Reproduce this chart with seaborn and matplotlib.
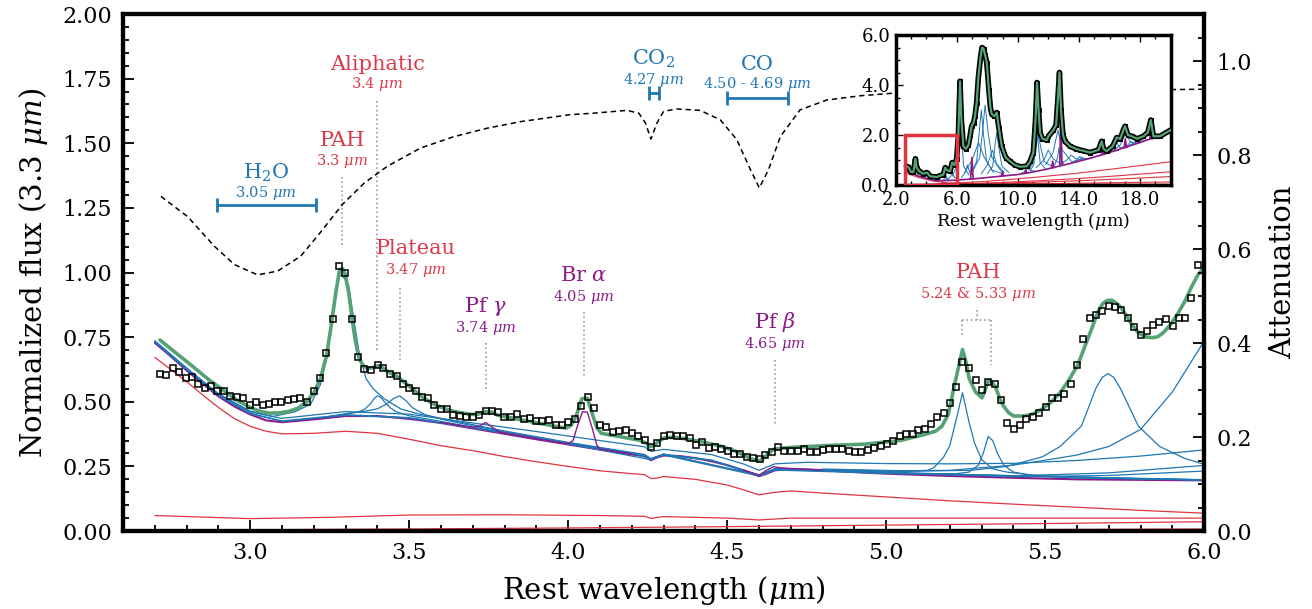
import matplotlib
matplotlib.use("Agg")
import matplotlib.pyplot as plt
from matplotlib.ticker import MultipleLocator, FixedLocator, FormatStrFormatter
from matplotlib.patches import Rectangle
import numpy as np
import pandas as pd
import seaborn as sns

# ------------------------------------------------------------------ data
obs_wave = [2.716, 2.735, 2.757, 2.777, 2.797, 2.817, 2.837, 2.857, 2.876, 2.896, 2.917, 2.937, 2.957, 2.977,
            2.999, 3.019, 3.039, 3.058, 3.078, 3.098, 3.118, 3.138, 3.158, 3.180, 3.199, 3.219, 3.238, 3.259,
            3.279, 3.299, 3.319, 3.339, 3.359, 3.379, 3.401, 3.419, 3.439, 3.460, 3.480, 3.500, 3.520, 3.540,
            3.560, 3.579, 3.599, 3.619, 3.639, 3.659, 3.679, 3.699, 3.719, 3.740, 3.759, 3.779, 3.799, 3.819,
            3.839, 3.860, 3.880, 3.900, 3.919, 3.939, 3.960, 3.980, 4.000, 4.020, 4.041, 4.061, 4.081, 4.100,
            4.120, 4.141, 4.161, 4.181, 4.201, 4.221, 4.240, 4.260, 4.280, 4.302, 4.321, 4.341, 4.362, 4.382,
            4.401, 4.422, 4.442, 4.461, 4.481, 4.501, 4.521, 4.541, 4.562, 4.582, 4.602, 4.620, 4.640, 4.660,
            4.680, 4.702, 4.722, 4.741, 4.761, 4.781, 4.801, 4.821, 4.842, 4.862, 4.882, 4.902, 4.922, 4.942,
            4.962, 4.983, 5.003, 5.023, 5.043, 5.063, 5.083, 5.101, 5.121, 5.142, 5.161, 5.181, 5.200, 5.220,
            5.240, 5.261, 5.281, 5.301, 5.321, 5.341, 5.362, 5.381, 5.401, 5.420, 5.441, 5.461, 5.481, 5.502,
            5.522, 5.541, 5.560, 5.581, 5.600, 5.620, 5.640, 5.659, 5.679, 5.700, 5.721, 5.740, 5.760, 5.780,
            5.800, 5.819, 5.839, 5.859, 5.881, 5.901, 5.920, 5.940, 5.960, 5.980]
obs_flux = [0.608, 0.605, 0.629, 0.616, 0.592, 0.596, 0.568, 0.554, 0.560, 0.541, 0.543, 0.521, 0.517, 0.516,
            0.486, 0.499, 0.488, 0.493, 0.498, 0.501, 0.507, 0.511, 0.516, 0.498, 0.541, 0.591, 0.688, 0.820,
            1.027, 1.000, 0.820, 0.675, 0.626, 0.622, 0.642, 0.630, 0.609, 0.600, 0.569, 0.552, 0.543, 0.517,
            0.515, 0.489, 0.473, 0.472, 0.450, 0.446, 0.442, 0.442, 0.450, 0.463, 0.463, 0.461, 0.442, 0.442,
            0.451, 0.435, 0.436, 0.426, 0.426, 0.428, 0.409, 0.410, 0.420, 0.435, 0.484, 0.519, 0.475, 0.409,
            0.402, 0.384, 0.387, 0.391, 0.378, 0.366, 0.351, 0.325, 0.340, 0.369, 0.370, 0.369, 0.366, 0.358,
            0.333, 0.344, 0.320, 0.327, 0.318, 0.308, 0.299, 0.298, 0.287, 0.283, 0.277, 0.295, 0.307, 0.327,
            0.310, 0.310, 0.311, 0.319, 0.304, 0.304, 0.314, 0.316, 0.319, 0.316, 0.308, 0.306, 0.307, 0.314,
            0.321, 0.329, 0.336, 0.349, 0.366, 0.375, 0.375, 0.389, 0.393, 0.415, 0.443, 0.455, 0.497, 0.559,
            0.652, 0.632, 0.584, 0.545, 0.577, 0.567, 0.507, 0.419, 0.393, 0.412, 0.432, 0.440, 0.457, 0.478,
            0.514, 0.516, 0.532, 0.567, 0.642, 0.742, 0.825, 0.834, 0.850, 0.870, 0.867, 0.855, 0.825, 0.788,
            0.759, 0.775, 0.797, 0.808, 0.819, 0.793, 0.826, 0.823, 0.900, 1.028]

model_wave = [2.716, 2.76, 2.812, 2.87, 2.923, 2.96, 3.0, 3.03, 3.061, 3.09, 3.121, 3.15, 3.177, 3.20, 3.221,
              3.24, 3.254, 3.27, 3.281, 3.29, 3.298, 3.31, 3.320, 3.33, 3.342, 3.355, 3.370, 3.385, 3.403,
              3.42, 3.44, 3.464, 3.48, 3.497, 3.52, 3.541, 3.565, 3.585, 3.61, 3.640, 3.67, 3.695, 3.715,
              3.74, 3.76, 3.778, 3.80, 3.861, 3.916, 3.96, 3.993, 4.01, 4.025, 4.043, 4.06, 4.077, 4.09,
              4.104, 4.159, 4.225, 4.245, 4.258, 4.270, 4.280, 4.304, 4.34, 4.371, 4.43, 4.483, 4.52, 4.550,
              4.575, 4.595, 4.605, 4.618, 4.632, 4.646, 4.67, 4.707, 4.819, 4.931, 5.043, 5.110, 5.155,
              5.175, 5.195, 5.217, 5.240, 5.252, 5.261, 5.281, 5.301, 5.311, 5.321, 5.332, 5.343, 5.355,
              5.368, 5.385, 5.401, 5.435, 5.46, 5.491, 5.52, 5.547, 5.575, 5.603, 5.625, 5.648, 5.665,
              5.681, 5.695, 5.709, 5.72, 5.737, 5.755, 5.771, 5.79, 5.804, 5.82, 5.838, 5.855, 5.872,
              5.895, 5.917, 5.94, 5.961, 5.98, 6.0]
model_flux = [0.739, 0.695, 0.644, 0.585, 0.538, 0.505, 0.478, 0.463, 0.456, 0.457, 0.463, 0.475, 0.499, 0.535,
              0.590, 0.680, 0.790, 0.930, 1.010, 1.015, 0.995, 0.920, 0.823, 0.740, 0.668, 0.640, 0.629, 0.632,
              0.640, 0.628, 0.612, 0.596, 0.580, 0.563, 0.540, 0.519, 0.500, 0.486, 0.474, 0.463, 0.456,
              0.451, 0.452, 0.462, 0.461, 0.448, 0.443, 0.428, 0.415, 0.405, 0.398, 0.410, 0.445, 0.512,
              0.514, 0.450, 0.400, 0.378, 0.366, 0.351, 0.340, 0.326, 0.332, 0.343, 0.362, 0.362, 0.356,
              0.343, 0.327, 0.312, 0.295, 0.280, 0.271, 0.274, 0.286, 0.303, 0.316, 0.320, 0.324, 0.331,
              0.336, 0.350, 0.370, 0.386, 0.405, 0.450, 0.577, 0.702, 0.650, 0.590, 0.538, 0.515, 0.545,
              0.584, 0.575, 0.560, 0.520, 0.485, 0.458, 0.445, 0.445, 0.452, 0.472, 0.500, 0.535, 0.585,
              0.643, 0.715, 0.788, 0.845, 0.880, 0.892, 0.893, 0.885, 0.867, 0.835, 0.801, 0.772, 0.759,
              0.750, 0.748, 0.752, 0.768, 0.800, 0.841, 0.890, 0.946, 0.990, 1.020]

atten_wave = [2.719, 2.803, 2.887, 2.950, 3.023, 3.086, 3.159, 3.219, 3.290, 3.358, 3.431, 3.536, 3.640,
              3.745, 3.850, 4.007, 4.080, 4.185, 4.222, 4.243, 4.260, 4.279, 4.300, 4.342, 4.415, 4.478,
              4.530, 4.573, 4.601, 4.630, 4.667, 4.729, 4.813, 4.918, 5.03, 5.3, 5.6, 6.0]
atten_val = [0.712, 0.669, 0.606, 0.567, 0.545, 0.553, 0.585, 0.634, 0.695, 0.740, 0.776, 0.815, 0.839,
             0.857, 0.871, 0.886, 0.889, 0.895, 0.889, 0.868, 0.834, 0.868, 0.893, 0.898, 0.895, 0.875,
             0.833, 0.769, 0.730, 0.769, 0.839, 0.896, 0.917, 0.926, 0.932, 0.935, 0.937, 0.940]

# continuum (sum of continuum components, attenuated) -- purple base of the bundle
cont_wave = [2.70, 2.75, 2.80, 2.85, 2.90, 2.95, 3.00, 3.05, 3.10, 3.20, 3.30, 3.40, 3.50, 3.60, 3.70, 3.80,
             3.90, 4.00, 4.10, 4.20, 4.24, 4.26, 4.28, 4.30, 4.35, 4.40, 4.45, 4.50, 4.55, 4.60, 4.62, 4.65,
             4.70, 4.80, 4.90, 5.00, 5.20, 5.40, 5.60, 5.80, 6.00]
cont_flux = [0.728, 0.676, 0.621, 0.570, 0.521, 0.482, 0.451, 0.428, 0.421, 0.432, 0.445, 0.445, 0.434, 0.418,
             0.397, 0.376, 0.355, 0.335, 0.315, 0.296, 0.290, 0.274, 0.285, 0.292, 0.290, 0.282, 0.270, 0.255,
             0.235, 0.212, 0.220, 0.235, 0.240, 0.235, 0.228, 0.222, 0.213, 0.206, 0.200, 0.198, 0.196]

# continuum components (red)
star_wave = [2.70, 2.75, 2.80, 2.85, 2.90, 2.95, 3.00, 3.05, 3.10, 3.20, 3.30, 3.40, 3.50, 3.60, 3.70, 3.80,
             3.90, 4.00, 4.10, 4.20, 4.24, 4.26, 4.28, 4.30, 4.40, 4.50, 4.55, 4.60, 4.65, 4.70, 4.80, 5.00,
             5.20, 5.40, 5.60, 5.80, 6.00]
star_flux = [0.672, 0.625, 0.578, 0.527, 0.478, 0.435, 0.405, 0.386, 0.376, 0.378, 0.386, 0.378, 0.355, 0.330,
             0.311, 0.288, 0.268, 0.250, 0.233, 0.222, 0.218, 0.203, 0.205, 0.211, 0.200, 0.178, 0.160, 0.140,
             0.150, 0.155, 0.147, 0.132, 0.117, 0.104, 0.092, 0.080, 0.069]
dust1_wave = [2.70, 3.00, 3.25, 3.50, 3.80, 4.10, 4.24, 4.26, 4.30, 4.50, 4.60, 4.70, 5.00, 5.50, 6.00]
dust1_flux = [0.060, 0.048, 0.053, 0.062, 0.063, 0.060, 0.057, 0.049, 0.056, 0.050, 0.043, 0.050, 0.050, 0.050, 0.050]
dust2_wave = [2.70, 3.00, 3.50, 4.00, 4.50, 5.00, 5.50, 6.00]
dust2_flux = [0.004, 0.005, 0.008, 0.012, 0.017, 0.023, 0.029, 0.036]
dust3_wave = [2.70, 3.50, 4.50, 5.50, 6.00]
dust3_flux = [0.001, 0.002, 0.004, 0.006, 0.008]

# dust features (blue) : continuum + one feature each
pah33_wave = [2.70, 2.80, 2.90, 3.00, 3.07, 3.14, 3.19, 3.22, 3.24, 3.255, 3.27, 3.281, 3.295, 3.309, 3.325,
              3.342, 3.364, 3.386, 3.42, 3.474, 3.53, 3.60, 3.80, 4.00, 4.24, 4.26, 4.30, 4.60, 4.65, 5.00, 6.00]
pah33_flux = [0.734, 0.629, 0.531, 0.464, 0.443, 0.461, 0.491, 0.564, 0.667, 0.789, 0.912, 0.992, 0.980, 0.952,
              0.825, 0.693, 0.590, 0.551, 0.513, 0.472, 0.453, 0.436, 0.387, 0.343, 0.296, 0.280, 0.298, 0.216,
              0.239, 0.225, 0.198]
ali34_wave = [3.25, 3.30, 3.34, 3.36, 3.38, 3.39, 3.40, 3.41, 3.42, 3.44, 3.46, 3.50, 3.60, 3.80, 4.00, 4.26,
              4.30, 4.60, 4.65, 5.00, 6.00]
ali34_flux = [0.442, 0.453, 0.461, 0.471, 0.495, 0.513, 0.523, 0.518, 0.503, 0.477, 0.461, 0.446, 0.424, 0.379,
              0.337, 0.276, 0.294, 0.213, 0.236, 0.223, 0.197]
plat_wave = [3.25, 3.32, 3.36, 3.40, 3.43, 3.45, 3.47, 3.49, 3.51, 3.55, 3.60, 3.70, 3.80, 4.00, 4.20, 4.26,
             4.30, 4.60, 4.65, 5.00, 6.00]
plat_flux = [0.444, 0.457, 0.463, 0.473, 0.492, 0.512, 0.523, 0.504, 0.477, 0.450, 0.433, 0.407, 0.384, 0.341,
             0.301, 0.279, 0.297, 0.216, 0.239, 0.225, 0.198]
broad_wave = [2.70, 2.80, 2.90, 3.00, 3.10, 3.30, 3.50, 3.70, 3.90, 4.10, 4.24, 4.26, 4.30, 4.45, 4.55, 4.60,
              4.65, 4.75, 5.00, 5.20, 5.40, 5.60, 5.80, 6.00]
broad_flux = [0.736, 0.631, 0.530, 0.461, 0.436, 0.462, 0.452, 0.418, 0.385, 0.350, 0.326, 0.308, 0.316, 0.296,
              0.260, 0.235, 0.260, 0.266, 0.261, 0.260, 0.262, 0.273, 0.290, 0.314]
wide1_wave = [2.70, 2.80, 2.90, 3.00, 3.10, 3.30, 3.50, 3.75, 4.00, 4.24, 4.26, 4.30, 4.45, 4.60, 4.65, 5.00,
              5.40, 5.70, 6.00]
wide1_flux = [0.733, 0.626, 0.526, 0.456, 0.426, 0.450, 0.439, 0.391, 0.340, 0.295, 0.279, 0.297, 0.275, 0.217,
              0.240, 0.228, 0.213, 0.225, 0.254]
wide2_wave = [2.70, 2.80, 2.90, 3.00, 3.10, 3.30, 3.50, 3.75, 4.00, 4.24, 4.26, 4.30, 4.45, 4.60, 4.65, 5.00,
              5.40, 5.70, 6.00]
wide2_flux = [0.731, 0.624, 0.524, 0.454, 0.424, 0.448, 0.437, 0.389, 0.338, 0.293, 0.277, 0.295, 0.273, 0.215,
              0.238, 0.225, 0.210, 0.215, 0.232]
pah524_wave = [4.90, 5.05, 5.13, 5.15, 5.18, 5.20, 5.222, 5.24, 5.261, 5.278, 5.30, 5.334, 5.38, 5.45, 5.55,
               5.75, 6.00]
pah524_flux = [0.233, 0.230, 0.235, 0.245, 0.285, 0.330, 0.440, 0.535, 0.419, 0.340, 0.277, 0.241, 0.228,
               0.218, 0.211, 0.203, 0.199]
pah533_wave = [5.10, 5.22, 5.26, 5.29, 5.305, 5.321, 5.335, 5.35, 5.37, 5.40, 5.46, 5.60, 6.00]
pah533_flux = [0.220, 0.222, 0.228, 0.255, 0.300, 0.366, 0.350, 0.300, 0.255, 0.228, 0.215, 0.205, 0.198]
pah570_wave = [4.80, 5.10, 5.267, 5.379, 5.491, 5.547, 5.614, 5.659, 5.68, 5.698, 5.715, 5.737, 5.793, 5.860,
               5.939, 6.00]
pah570_flux = [0.240, 0.232, 0.235, 0.250, 0.287, 0.327, 0.406, 0.551, 0.595, 0.609, 0.595, 0.551, 0.406,
               0.327, 0.281, 0.258]
pah62_wave = [4.60, 4.65, 5.00, 5.20, 5.40, 5.50, 5.60, 5.70, 5.80, 5.90, 6.00]
pah62_flux = [0.216, 0.242, 0.232, 0.235, 0.255, 0.274, 0.294, 0.327, 0.393, 0.538, 0.735]

# hydrogen recombination lines (purple)
pfg_wave = [3.60, 3.70, 3.72, 3.74, 3.76, 3.78, 3.90]
pfg_flux = [0.420, 0.401, 0.405, 0.420, 0.403, 0.384, 0.357]
bra_wave = [3.90, 4.00, 4.015, 4.03, 4.045, 4.06, 4.075, 4.09, 4.10, 4.20]
bra_flux = [0.357, 0.337, 0.350, 0.410, 0.462, 0.460, 0.400, 0.332, 0.317, 0.298]
pfb_wave = [4.55, 4.60, 4.625, 4.645, 4.665, 4.70, 4.80]
pfb_flux = [0.237, 0.216, 0.236, 0.249, 0.245, 0.242, 0.236]

# annotations
band_labels = ["H$_2$O", "CO$_2$", "CO"]
band_sub = ["3.05 $\\mu m$", "4.27 $\\mu m$", "4.50 - 4.69 $\\mu m$"]
band_center = [3.05, 4.27, 4.595]
band_halfwidth = [0.156, 0.017, 0.095]
feat_labels = ["PAH", "Aliphatic", "Plateau", "Pf $\\gamma$", "Br $\\alpha$", "Pf $\\beta$", "PAH"]
feat_sub = ["3.3 $\\mu m$", "3.4 $\\mu m$", "3.47 $\\mu m$", "3.74 $\\mu m$", "4.05 $\\mu m$", "4.65 $\\mu m$",
            "5.24 & 5.33 $\\mu m$"]
feat_wave = [3.29, 3.40, 3.47, 3.74, 4.05, 4.65, 5.285]
feat_kind = ["dust", "dust", "dust", "line", "line", "line", "dust"]
pah_pair = [5.24, 5.33]

# inset: full spectrum
ins_wave = [2.7, 2.83, 3.0, 3.16, 3.29, 3.37, 3.53, 3.8, 4.05, 4.25, 4.68, 5.12, 5.24, 5.34, 5.56, 5.70, 5.85,
            5.99, 6.10, 6.21, 6.30, 6.43, 6.6, 6.76, 6.88, 6.97, 7.1, 7.19, 7.3, 7.41, 7.55, 7.65, 7.75, 7.85,
            7.96, 8.1, 8.2, 8.28, 8.45, 8.61, 8.75, 8.94, 9.2, 9.48, 9.8, 10.14, 10.58, 10.8, 11.01, 11.15,
            11.25, 11.35, 11.45, 11.6, 11.88, 12.0, 12.32, 12.5, 12.62, 12.72, 12.82, 12.95, 13.08, 13.41, 13.8,
            14.07, 14.4, 14.72, 15.27, 15.48, 15.6, 15.81, 16.2, 16.47, 16.7, 16.9, 17.01, 17.2, 17.45, 17.8,
            18.21, 18.5, 18.7, 18.87, 19.3, 20.0]
ins_flux = [0.75, 0.72, 0.52, 0.52, 1.05, 0.70, 0.55, 0.45, 0.50, 0.35, 0.32, 0.42, 0.70, 0.60, 0.55, 0.90, 0.80,
            1.05, 2.0, 4.15, 2.6, 1.55, 1.45, 1.6, 2.0, 2.35, 2.5, 2.75, 3.3, 4.3, 5.1, 5.5, 5.45, 5.2, 4.9,
            3.8, 3.1, 2.85, 2.75, 2.9, 2.3, 1.55, 1.1, 0.95, 0.8, 0.73, 0.75, 0.95, 1.3, 2.6, 4.1, 3.0, 2.1,
            1.85, 1.8, 1.95, 2.2, 2.4, 3.5, 4.5, 3.0, 2.0, 1.75, 1.55, 1.45, 1.40, 1.35, 1.30, 1.4, 1.75,
            1.45, 1.35, 1.55, 1.9, 1.85, 2.2, 2.35, 2.0, 1.95, 1.85, 1.95, 2.1, 2.6, 1.95, 1.95, 2.2]
ins_cont_wave = [2.7, 3.0, 3.5, 4.0, 4.5, 5.0, 5.5, 6.0, 6.5, 7.0, 8.0, 9.0, 10.0, 11.0, 12.0, 13.0, 14.0, 15.0,
                 16.0, 17.0, 18.0, 19.0, 20.0]
ins_cont_flux = [0.55, 0.48, 0.35, 0.27, 0.18, 0.175, 0.18, 0.195, 0.22, 0.24, 0.30, 0.36, 0.42, 0.52, 0.65,
                 0.80, 0.95, 1.12, 1.30, 1.50, 1.70, 1.92, 2.15]
ins_feat_wave = [
    [3.1, 3.22, 3.29, 3.36, 3.5],
    [5.1, 5.2, 5.27, 5.35, 5.5],
    [5.3, 5.55, 5.70, 5.85, 6.1],
    [5.7, 6.0, 6.13, 6.22, 6.31, 6.45, 6.8],
    [6.3, 6.55, 6.69, 6.85, 7.1],
    [6.5, 7.0, 7.42, 7.8, 8.3, 9.0],
    [6.9, 7.3, 7.45, 7.60, 7.75, 7.95, 8.4],
    [7.0, 7.5, 7.68, 7.85, 8.05, 8.3, 8.9],
    [7.6, 8.0, 8.33, 8.6, 9.1],
    [8.0, 8.35, 8.5, 8.61, 8.75, 8.95, 9.4],
    [10.2, 10.5, 10.68, 10.85, 11.2],
    [10.8, 11.05, 11.15, 11.23, 11.31, 11.45, 11.8],
    [10.7, 11.0, 11.17, 11.33, 11.5, 11.7, 12.2],
    [11.2, 11.7, 11.99, 12.3, 12.8],
    [11.8, 12.3, 12.62, 12.9, 13.5],
    [12.4, 12.6, 12.69, 12.78, 13.0],
    [12.8, 13.2, 13.48, 13.8, 14.3],
    [13.5, 13.85, 14.04, 14.25, 14.7],
    [13.6, 14.0, 14.19, 14.4, 14.9],
    [15.3, 15.7, 15.9, 16.1, 16.6],
    [15.8, 16.25, 16.45, 16.65, 17.2],
    [16.2, 16.7, 17.04, 17.4, 18.0],
    [16.9, 17.2, 17.375, 17.55, 17.9],
    [17.3, 17.7, 17.87, 18.05, 18.5],
]
ins_feat_flux = [
    [0.42, 0.55, 0.95, 0.55, 0.37],
    [0.19, 0.25, 0.45, 0.25, 0.20],
    [0.22, 0.30, 0.50, 0.30, 0.25],
    [0.35, 0.75, 1.9, 3.6, 1.9, 0.75, 0.40],
    [0.30, 0.50, 0.80, 0.50, 0.32],
    [0.50, 1.0, 1.7, 1.1, 0.60, 0.45],
    [0.45, 0.95, 2.0, 3.0, 2.0, 0.95, 0.50],
    [0.50, 1.1, 2.1, 3.2, 2.1, 1.1, 0.55],
    [0.45, 0.80, 1.4, 0.85, 0.50],
    [0.45, 0.75, 1.6, 2.1, 1.5, 0.75, 0.50],
    [0.47, 0.55, 0.75, 0.58, 0.55],
    [0.55, 0.85, 1.8, 3.0, 1.8, 0.90, 0.65],
    [0.60, 0.90, 1.5, 2.0, 1.5, 0.95, 0.75],
    [0.70, 1.0, 1.4, 1.05, 0.85],
    [0.80, 1.3, 2.2, 1.4, 0.95],
    [0.80, 1.1, 1.5, 1.1, 0.85],
    [0.85, 1.0, 1.2, 1.05, 1.0],
    [0.90, 1.0, 1.15, 1.05, 1.05],
    [0.92, 1.0, 1.1, 1.05, 1.08],
    [1.15, 1.3, 1.45, 1.35, 1.38],
    [1.25, 1.45, 1.75, 1.5, 1.52],
    [1.35, 1.6, 2.05, 1.7, 1.75],
    [1.50, 1.6, 1.75, 1.65, 1.70],
    [1.60, 1.7, 1.85, 1.75, 1.82],
]
ins_line_wave = [[6.90, 6.985, 7.07], [8.92, 8.99, 9.06], [10.44, 10.51, 10.58], [12.20, 12.28, 12.36],
                 [12.74, 12.81, 12.88], [15.47, 15.55, 15.63], [16.95, 17.03, 17.11], [18.63, 18.71, 18.79]]
ins_line_flux = [[0.24, 1.1, 0.24], [0.36, 0.55, 0.36], [0.47, 0.60, 0.47], [0.69, 0.95, 0.69],
                 [0.80, 2.85, 0.80], [1.21, 1.50, 1.21], [1.50, 1.85, 1.50], [1.84, 2.45, 1.84]]
ins_red_wave = [[2.7, 3.5, 4.5, 5.5, 7.0, 10.0, 14.0, 20.0],
                [2.7, 5.0, 8.0, 11.0, 14.0, 17.0, 20.0],
                [2.7, 5.0, 8.0, 11.0, 14.0, 17.0, 20.0],
                [2.7, 5.0, 8.0, 11.0, 14.0, 17.0, 20.0],
                [2.7, 5.0, 8.0, 11.0, 14.0, 17.0, 20.0]]
ins_red_flux = [[0.47, 0.30, 0.15, 0.08, 0.06, 0.05, 0.04, 0.03],
                [0.0, 0.05, 0.15, 0.30, 0.48, 0.70, 0.93],
                [0.0, 0.03, 0.08, 0.16, 0.26, 0.39, 0.53],
                [0.0, 0.02, 0.06, 0.11, 0.17, 0.25, 0.34],
                [0.0, 0.01, 0.03, 0.05, 0.07, 0.10, 0.12]]
ins_xticks = [2.0, 6.0, 10.0, 14.0, 18.0]
zoom_box = [2.6, 6.0, 0.0, 2.0]

# ------------------------------------------------------------------ style
sns.set_theme(style="ticks", rc={"axes.edgecolor": "black", "text.color": "black",
                                 "xtick.color": "black", "ytick.color": "black",
                                 "axes.labelcolor": "black"})
plt.rcParams["font.family"] = ["DejaVu Serif"]
plt.rcParams["mathtext.fontset"] = "dejavuserif"

BLUE = "#1f77b4"
PURPLE = "#8b1a8b"
RED = "#e0333f"
RED_TXT = "#dc3a48"
GREEN = "#55a276"
GREY = "#9a9a9a"


def draw(axis, x, y, **kw):
    sns.lineplot(x=x, y=y, ax=axis, sort=False, estimator=None, legend=False, **kw)


fig = plt.figure(figsize=(13.12, 6.09), dpi=100)
ax = fig.add_axes([0.0938, 0.128, 0.824, 0.849])

# continuum components
for wx, wy in [(star_wave, star_flux), (dust1_wave, dust1_flux), (dust2_wave, dust2_flux),
               (dust3_wave, dust3_flux)]:
    draw(ax, wx, wy, color=RED, lw=0.9, zorder=2)

# continuum base (drawn first so the feature lines sit on top of it)
draw(ax, cont_wave, cont_flux, color=PURPLE, lw=1.5, zorder=2.5)

# dust features
for wx, wy in [(wide2_wave, wide2_flux), (wide1_wave, wide1_flux), (broad_wave, broad_flux),
               (pah33_wave, pah33_flux), (ali34_wave, ali34_flux), (plat_wave, plat_flux),
               (pah524_wave, pah524_flux), (pah533_wave, pah533_flux), (pah570_wave, pah570_flux),
               (pah62_wave, pah62_flux)]:
    draw(ax, wx, wy, color=BLUE, lw=0.9, zorder=3)

# recombination lines
for wx, wy in [(pfg_wave, pfg_flux), (bra_wave, bra_flux), (pfb_wave, pfb_flux)]:
    draw(ax, wx, wy, color=PURPLE, lw=1.0, zorder=3)

# total model and data
draw(ax, model_wave, model_flux, color=GREEN, lw=2.6, zorder=4)
draw(ax, obs_wave, obs_flux, linestyle="none", marker="s", markersize=4.3, markerfacecolor="none",
     markeredgecolor="black", markeredgewidth=1.1, zorder=6)

ax.set_xlim(2.6, 6.0)
ax.set_ylim(0, 2.0)
ax.xaxis.set_major_locator(MultipleLocator(0.5))
ax.xaxis.set_minor_locator(MultipleLocator(0.1))
ax.yaxis.set_major_locator(MultipleLocator(0.25))
ax.yaxis.set_minor_locator(MultipleLocator(0.05))
ax.xaxis.set_major_formatter(FormatStrFormatter("%.1f"))
ax.yaxis.set_major_formatter(FormatStrFormatter("%.2f"))
ax.tick_params(which="both", direction="in", top=False, right=False, labelsize=16, width=1.3, pad=8)
ax.tick_params(which="major", length=8)
ax.tick_params(which="minor", length=4)
ax.set_xlabel("Rest wavelength ($\\mu$m)", fontsize=21, labelpad=7)
ax.set_ylabel("Normalized flux (3.3 $\\mu m$)", fontsize=21, labelpad=9)
for s in ax.spines.values():
    s.set_linewidth(3)

# absorption bands
band_y = [(1.387, 1.306, 1.261), (1.825, 1.745, 1.696), (1.806, 1.729, 1.677)]
for lab, sub, c, hw, (ty, sy, ey) in zip(band_labels, band_sub, band_center, band_halfwidth, band_y):
    ax.text(c, ty, lab, color=BLUE, fontsize=15, ha="center", va="center")
    ax.text(c, sy, sub, color=BLUE, fontsize=10.5, ha="center", va="center")
    ax.errorbar(c, ey, xerr=hw, fmt="none", ecolor=BLUE, elinewidth=2, capsize=5, capthick=2, zorder=5)

# emission features
feat_y = [(1.510, 1.430, 1.368, 1.104), (1.803, 1.729, 1.664, 0.700), (1.092, 1.010, 0.942, 0.661),
          (0.868, 0.787, 0.726, 0.551), (0.988, 0.907, 0.849, 0.596), (0.808, 0.722, 0.663, 0.412),
          (0.999, 0.916, 0.854, 0.818)]
feat_x_text = [3.29, 3.40, 3.52, 3.74, 4.05, 4.65, 5.29]
for lab, sub, w, kind, xt, (ty, sy, l0, l1) in zip(feat_labels, feat_sub, feat_wave, feat_kind,
                                                   feat_x_text, feat_y):
    col = RED_TXT if kind == "dust" else PURPLE
    ax.text(xt, ty, lab, color=col, fontsize=15, ha="center", va="center")
    ax.text(xt, sy, sub, color=col, fontsize=10.5, ha="center", va="center")
    ax.plot([w, w], [l0, l1], color=GREY, ls=":", lw=1.2, zorder=1)
# bracket for the 5.24 / 5.33 pair
ax.plot([pah_pair[0], pah_pair[1]], [0.818, 0.818], color=GREY, ls=":", lw=1.2, zorder=1)
ax.plot([pah_pair[0], pah_pair[0]], [0.818, 0.755], color=GREY, ls=":", lw=1.2, zorder=1)
ax.plot([pah_pair[1], pah_pair[1]], [0.818, 0.643], color=GREY, ls=":", lw=1.2, zorder=1)

# attenuation
ax2 = ax.twinx()
draw(ax2, atten_wave, atten_val, color="black", lw=1.1, linestyle=(0, (3.5, 2.5)))
ax2.set_ylim(0, 1.1)
ax2.set_xlim(2.6, 6.0)
ax2.yaxis.set_major_locator(MultipleLocator(0.2))
ax2.yaxis.set_minor_locator(MultipleLocator(0.05))
ax2.yaxis.set_major_formatter(FormatStrFormatter("%.1f"))
ax2.tick_params(which="both", direction="in", labelsize=16, width=1.3, pad=9)
ax2.tick_params(which="major", length=8)
ax2.tick_params(which="minor", length=4)
ax2.set_ylabel("Attenuation", fontsize=21, labelpad=12)
for s in ax2.spines.values():
    s.set_linewidth(3)

# ------------------------------------------------------------------ inset
axin = fig.add_axes([0.6827, 0.6962, 0.2096, 0.2463])
axin.set_facecolor("white")
for wx, wy in zip(ins_red_wave, ins_red_flux):
    draw(axin, wx, wy, color=RED, lw=0.8, zorder=2)
for wx, wy in zip(ins_feat_wave, ins_feat_flux):
    draw(axin, wx, wy, color=BLUE, lw=0.7, zorder=3)
draw(axin, ins_cont_wave, ins_cont_flux, color=PURPLE, lw=1.2, zorder=3)
for wx, wy in zip(ins_line_wave, ins_line_flux):
    draw(axin, wx, wy, color=PURPLE, lw=1.2, zorder=3)
draw(axin, ins_wave, ins_flux, color="black", lw=4.0, zorder=4, marker="s", markersize=3.5,
     markerfacecolor="black", markeredgecolor="black")
draw(axin, ins_wave, ins_flux, color=GREEN, lw=1.6, zorder=5)
axin.add_patch(Rectangle((zoom_box[0], zoom_box[2]), zoom_box[1] - zoom_box[0], zoom_box[3] - zoom_box[2],
                         fill=False, edgecolor="#e0353f", lw=2.5, zorder=6))
axin.set_xlim(2.0, 20.0)
axin.set_ylim(0, 6.0)
axin.xaxis.set_major_locator(FixedLocator(ins_xticks))
axin.xaxis.set_minor_locator(MultipleLocator(1.0))
axin.yaxis.set_major_locator(MultipleLocator(2.0))
axin.yaxis.set_minor_locator(MultipleLocator(0.5))
axin.xaxis.set_major_formatter(FormatStrFormatter("%.1f"))
axin.yaxis.set_major_formatter(FormatStrFormatter("%.1f"))
axin.tick_params(which="both", direction="in", top=True, right=False, labelsize=13, width=1.0, pad=4)
axin.tick_params(which="major", length=5)
axin.tick_params(which="minor", length=3)
axin.set_xlabel("Rest wavelength ($\\mu$m)", fontsize=12.5, labelpad=2)
axin.set_ylabel("")
for s in axin.spines.values():
    s.set_linewidth(2.5)

fig.savefig("out.png", dpi=100)
